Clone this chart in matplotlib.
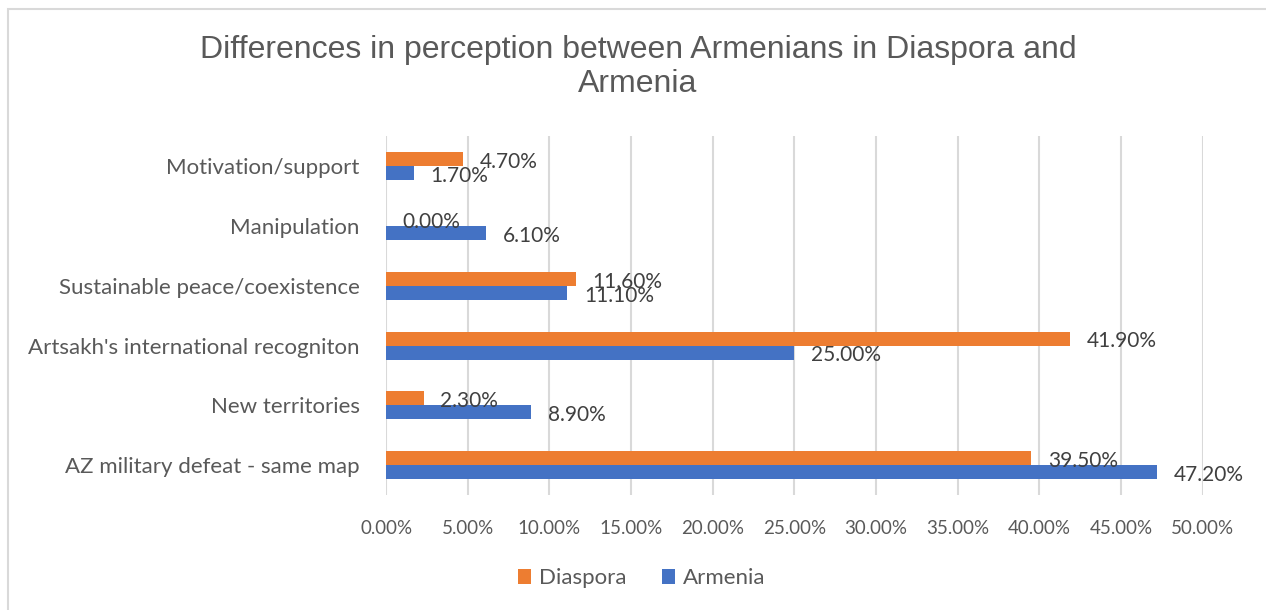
import matplotlib.pyplot as plt
import matplotlib.patches as patches
import numpy as np

categories = ["AZ military defeat - same map", "New territories",
              "Artsakh's international recogniton", "Sustainable peace/coexistence",
              "Manipulation", "Motivation/support"]
diaspora = [39.5, 2.3, 41.9, 11.6, 0.0, 4.7]
armenia = [47.2, 8.9, 25.0, 11.1, 6.1, 1.7]
x_ticks = [0, 5, 10, 15, 20, 25, 30, 35, 40, 45, 50]

orange = '#ED7D31'
blue = '#4472C4'
gray_text = '#595959'

plt.rcParams['font.family'] = ['Lato', 'DejaVu Sans']

fig = plt.figure(figsize=(12.66, 6.10), dpi=100)
ax = fig.add_axes([0.305, 0.1885, 0.645, 0.588])

y = np.arange(len(categories))
h = 0.235
off = 0.117
b_d = ax.barh(y + off, diaspora, height=h, color=orange, label='Diaspora', zorder=3)
b_a = ax.barh(y - off, armenia, height=h, color=blue, label='Armenia', zorder=3)

# data labels, a bit right of the bar end like excel does
for bars, vals in [(b_d, diaspora), (b_a, armenia)]:
    for bar, v in zip(bars, vals):
        ax.annotate('%.2f%%' % v, (bar.get_width(), bar.get_y() + bar.get_height() / 2),
                    xytext=(12, -2), textcoords='offset points', va='center', ha='left',
                    fontsize=15, color='#404040', zorder=4)

ax.set_xlim(0, 50)
ax.set_ylim(-0.5, len(categories) - 0.5)
ax.set_xticks(x_ticks)
ax.set_xticklabels(['%.2f%%' % t for t in x_ticks])
ax.set_yticks(y)
ax.set_yticklabels(categories)
ax.tick_params(axis='both', length=0, colors=gray_text)
ax.tick_params(axis='x', pad=18, labelsize=13.5)
ax.tick_params(axis='y', pad=19, labelsize=16)
ax.grid(axis='x', color='#d9d9d9', linewidth=1.5, zorder=0)
for s in ax.spines.values():
    s.set_visible(False)

fig.text(0.504, 1 - 67 / 610, "Differences in perception between Armenians in Diaspora and\nArmenia",
         ha='center', va='center', fontsize=23, color=gray_text, family='Liberation Sans',
         linespacing=1.18)

leg = fig.legend(handles=[b_d, b_a], loc='center', bbox_to_anchor=(0.507, 0.052), ncol=2,
                 frameon=False, fontsize=16, handlelength=0.6, handleheight=0.6,
                 handletextpad=0.35, columnspacing=1.6)
for t in leg.get_texts():
    t.set_color(gray_text)

# chart border (excel chart area)
fig.add_artist(patches.Rectangle((8 / 1266, -0.05), 1.1, 1 - 9 / 610 + 0.05,
                                 transform=fig.transFigure, fill=False,
                                 edgecolor='#d9d9d9', linewidth=1.5))

fig.savefig('out.png', dpi=100)
